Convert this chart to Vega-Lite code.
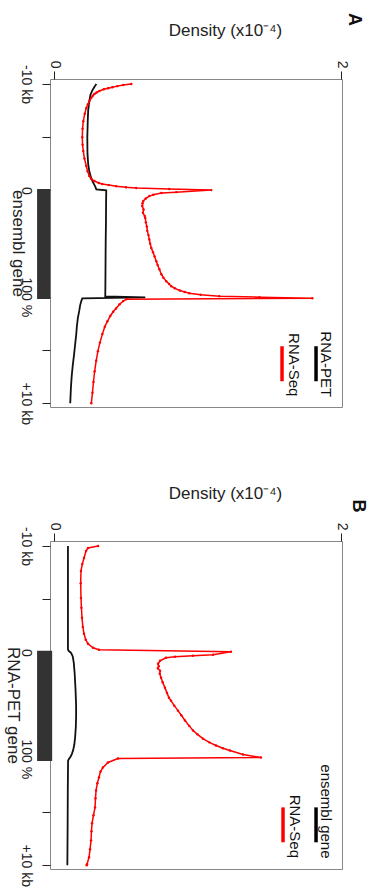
{
  "$schema": "https://vega.github.io/schema/vega-lite/v6.json",
  "padding": {"left": 3, "top": 12, "right": 0, "bottom": 0},
  "background": "white",
  "bounds": "flush",
  "spacing": 134,
  "config": {
    "font": "Liberation Sans",
    "view": {"stroke": "#888", "strokeWidth": 1},
    "axis": {"grid": false, "domain": false, "tickColor": "#222", "tickSize": 8, "labelColor": "#222", "titleColor": "#222", "titleFontWeight": "normal", "labelFlush": false, "labelOverlap": false, "labelBound": false}
  },
  "datasets": {
    "A_pet": [
      {"pos": 0, "density": 0.293}, {"pos": 3, "density": 0.278}, {"pos": 6, "density": 0.265}, {"pos": 10, "density": 0.252}, {"pos": 16, "density": 0.244}, {"pos": 25, "density": 0.236}, {"pos": 35, "density": 0.233}, {"pos": 50, "density": 0.23}, {"pos": 65, "density": 0.231}, {"pos": 75, "density": 0.236}, {"pos": 82, "density": 0.244}, {"pos": 88, "density": 0.256}, {"pos": 92, "density": 0.268}, {"pos": 96, "density": 0.284}, {"pos": 99, "density": 0.293}, {"pos": 100, "density": 0.362}, {"pos": 110, "density": 0.361}, {"pos": 130, "density": 0.36}, {"pos": 150, "density": 0.358}, {"pos": 170, "density": 0.357}, {"pos": 190, "density": 0.356}, {"pos": 199.5, "density": 0.355}, {"pos": 200.5, "density": 0.634}, {"pos": 201.5, "density": 0.195}, {"pos": 204, "density": 0.188}, {"pos": 208, "density": 0.18}, {"pos": 213, "density": 0.174}, {"pos": 220, "density": 0.164}, {"pos": 228, "density": 0.157}, {"pos": 235, "density": 0.153}, {"pos": 245, "density": 0.145}, {"pos": 255, "density": 0.137}, {"pos": 265, "density": 0.128}, {"pos": 275, "density": 0.121}, {"pos": 285, "density": 0.116}, {"pos": 300, "density": 0.111}
    ],
    "A_seq": [
      {"pos": 0, "density": 0.537}, {"pos": 1, "density": 0.48}, {"pos": 2, "density": 0.439}, {"pos": 3, "density": 0.405}, {"pos": 4, "density": 0.375}, {"pos": 5, "density": 0.345}, {"pos": 6.6, "density": 0.314}, {"pos": 8, "density": 0.295}, {"pos": 9.4, "density": 0.279}, {"pos": 11, "density": 0.268}, {"pos": 13, "density": 0.258}, {"pos": 16, "density": 0.245}, {"pos": 19, "density": 0.234}, {"pos": 22.6, "density": 0.223}, {"pos": 28, "density": 0.212}, {"pos": 35, "density": 0.202}, {"pos": 42, "density": 0.197}, {"pos": 50, "density": 0.195}, {"pos": 57, "density": 0.197}, {"pos": 63, "density": 0.202}, {"pos": 70, "density": 0.21}, {"pos": 77, "density": 0.223}, {"pos": 82, "density": 0.232}, {"pos": 86.5, "density": 0.244}, {"pos": 89, "density": 0.256}, {"pos": 91.2, "density": 0.279}, {"pos": 93, "density": 0.31}, {"pos": 94, "density": 0.334}, {"pos": 95, "density": 0.38}, {"pos": 96, "density": 0.432}, {"pos": 97, "density": 0.5}, {"pos": 97.8, "density": 0.571}, {"pos": 98.7, "density": 0.801}, {"pos": 99.7, "density": 1.094}, {"pos": 101.6, "density": 0.85}, {"pos": 102.5, "density": 0.746}, {"pos": 104, "density": 0.69}, {"pos": 105.3, "density": 0.662}, {"pos": 107.5, "density": 0.638}, {"pos": 110, "density": 0.62}, {"pos": 112, "density": 0.615}, {"pos": 114.7, "density": 0.613}, {"pos": 118, "density": 0.622}, {"pos": 121, "density": 0.618}, {"pos": 124, "density": 0.63}, {"pos": 126, "density": 0.634}, {"pos": 130, "density": 0.638}, {"pos": 134, "density": 0.645}, {"pos": 138, "density": 0.648}, {"pos": 142, "density": 0.656}, {"pos": 146, "density": 0.662}, {"pos": 150, "density": 0.668}, {"pos": 154, "density": 0.676}, {"pos": 158, "density": 0.688}, {"pos": 162, "density": 0.699}, {"pos": 166.5, "density": 0.711}, {"pos": 170, "density": 0.72}, {"pos": 174, "density": 0.732}, {"pos": 178.7, "density": 0.746}, {"pos": 182, "density": 0.76}, {"pos": 185.3, "density": 0.78}, {"pos": 188, "density": 0.8}, {"pos": 190, "density": 0.815}, {"pos": 192, "density": 0.84}, {"pos": 194, "density": 0.875}, {"pos": 195.5, "density": 0.91}, {"pos": 196.6, "density": 0.941}, {"pos": 198, "density": 1.02}, {"pos": 199.4, "density": 1.15}, {"pos": 200.3, "density": 1.429}, {"pos": 201.3, "density": 1.798}, {"pos": 202.2, "density": 0.502}, {"pos": 204, "density": 0.48}, {"pos": 207, "density": 0.455}, {"pos": 211, "density": 0.43}, {"pos": 214, "density": 0.41}, {"pos": 218, "density": 0.39}, {"pos": 223, "density": 0.37}, {"pos": 228, "density": 0.352}, {"pos": 235, "density": 0.335}, {"pos": 243, "density": 0.318}, {"pos": 251, "density": 0.304}, {"pos": 260, "density": 0.292}, {"pos": 270, "density": 0.281}, {"pos": 280, "density": 0.273}, {"pos": 290, "density": 0.266}, {"pos": 300, "density": 0.258}
    ],
    "B_ens": [
      {"pos": 0, "density": 0.095}, {"pos": 50, "density": 0.095}, {"pos": 97, "density": 0.095}, {"pos": 98.5, "density": 0.1}, {"pos": 100, "density": 0.114}, {"pos": 102, "density": 0.123}, {"pos": 104, "density": 0.129}, {"pos": 110, "density": 0.136}, {"pos": 120, "density": 0.142}, {"pos": 135, "density": 0.148}, {"pos": 150, "density": 0.152}, {"pos": 160, "density": 0.152}, {"pos": 170, "density": 0.15}, {"pos": 180, "density": 0.145}, {"pos": 187, "density": 0.139}, {"pos": 192, "density": 0.131}, {"pos": 195.5, "density": 0.122}, {"pos": 198, "density": 0.113}, {"pos": 200, "density": 0.103}, {"pos": 201.6, "density": 0.096}, {"pos": 230, "density": 0.094}, {"pos": 260, "density": 0.093}, {"pos": 300, "density": 0.091}
    ],
    "B_seq": [
      {"pos": 0, "density": 0.305}, {"pos": 1.9, "density": 0.235}, {"pos": 4.7, "density": 0.221}, {"pos": 11.2, "density": 0.207}, {"pos": 17, "density": 0.195}, {"pos": 23.4, "density": 0.186}, {"pos": 35, "density": 0.184}, {"pos": 48.8, "density": 0.186}, {"pos": 58, "density": 0.189}, {"pos": 67.5, "density": 0.193}, {"pos": 76, "density": 0.199}, {"pos": 82.5, "density": 0.207}, {"pos": 88, "density": 0.219}, {"pos": 91.9, "density": 0.235}, {"pos": 95.6, "density": 0.27}, {"pos": 97.5, "density": 0.311}, {"pos": 99.4, "density": 1.231}, {"pos": 102.2, "density": 1.106}, {"pos": 103.1, "density": 0.966}, {"pos": 104, "density": 0.841}, {"pos": 105, "density": 0.778}, {"pos": 107.8, "density": 0.737}, {"pos": 110.6, "density": 0.723}, {"pos": 113, "density": 0.728}, {"pos": 115, "density": 0.722}, {"pos": 117.2, "density": 0.737}, {"pos": 120, "density": 0.735}, {"pos": 123.7, "density": 0.744}, {"pos": 128, "density": 0.755}, {"pos": 133.1, "density": 0.771}, {"pos": 138, "density": 0.785}, {"pos": 142.5, "density": 0.799}, {"pos": 145.3, "density": 0.813}, {"pos": 150, "density": 0.836}, {"pos": 154.7, "density": 0.862}, {"pos": 159, "density": 0.885}, {"pos": 164, "density": 0.911}, {"pos": 169, "density": 0.94}, {"pos": 173.4, "density": 0.967}, {"pos": 177, "density": 0.998}, {"pos": 181, "density": 1.036}, {"pos": 184.5, "density": 1.08}, {"pos": 187.5, "density": 1.127}, {"pos": 190, "density": 1.175}, {"pos": 192.2, "density": 1.224}, {"pos": 195.9, "density": 1.315}, {"pos": 198.7, "density": 1.44}, {"pos": 199.7, "density": 0.444}, {"pos": 203.4, "density": 0.374}, {"pos": 208.1, "density": 0.339}, {"pos": 212, "density": 0.322}, {"pos": 217.5, "density": 0.311}, {"pos": 223, "density": 0.3}, {"pos": 229.7, "density": 0.291}, {"pos": 237, "density": 0.287}, {"pos": 245.6, "density": 0.284}, {"pos": 253, "density": 0.273}, {"pos": 260.6, "density": 0.263}, {"pos": 268, "density": 0.259}, {"pos": 276.6, "density": 0.256}, {"pos": 285, "density": 0.249}, {"pos": 292.5, "density": 0.242}, {"pos": 299, "density": 0.228}, {"pos": 300, "density": 0.226}
    ]
  },
  "vconcat": [
    {
      "width": 292,
      "height": 328,
      "layer": [
        {
          "data": {"name": "A_pet"},
          "mark": {"type": "line", "color": "#111", "strokeWidth": 1.8},
          "encoding": {
            "x": {"field": "density", "type": "quantitative", "scale": {"domain": [-0.03, 2.005], "nice": false, "zero": false},
              "axis": {"orient": "top", "values": [0, 1, 2], "format": "d", "labelAngle": 90, "labelAlign": "right", "labelBaseline": "middle", "labelPadding": 3, "labelFontSize": 14, "title": "Density (x10⁻⁴)", "titleFontSize": 17, "titleX": 175, "titleY": -44, "titleAlign": "center", "titleBaseline": "alphabetic", "titleAngle": 0}},
            "y": {"field": "pos", "type": "quantitative", "scale": {"domain": [-4.7, 303.5], "reverse": true, "nice": false, "zero": false},
              "axis": {"orient": "left", "values": [0, 50, 100, 200, 250, 300], "labelExpr": "datum.value == 0 ? '-10 kb' : datum.value == 100 ? '0' : datum.value == 200 ? '100 %' : datum.value == 300 ? '+10 kb' : ''", "labelAngle": 90, "labelAlign": "center", "labelBaseline": "top", "labelPadding": 10, "labelFontSize": 14, "title": "ensembl gene", "titleFontSize": 17, "titleAngle": 90, "titleX": -37.5, "titleAlign": "center", "titleBaseline": "alphabetic"}},
            "order": {"field": "pos", "type": "quantitative"}
          }
        },
        {
          "data": {"name": "A_seq"},
          "mark": {"type": "line", "color": "#ff0000", "strokeWidth": 1.5, "point": {"filled": true, "size": 6, "color": "#ff0000"}},
          "encoding": {
            "x": {"field": "density", "type": "quantitative"},
            "y": {"field": "pos", "type": "quantitative"},
            "order": {"field": "pos", "type": "quantitative"}
          }
        },
        {
          "data": {"values": [{"gene": "ensembl gene", "start": 98.7, "end": 202}]},
          "mark": {"type": "rect", "color": "#333333"},
          "encoding": {"y": {"field": "start", "type": "quantitative"}, "y2": {"field": "end"}, "x": {"datum": -0.12}, "x2": {"datum": -0.028}}
        },
        {
          "data": {"values": [{}]},
          "mark": {"type": "rule", "color": "#000", "strokeWidth": 3.5},
          "encoding": {"x": {"datum": 1.824}, "y": {"datum": 246.4}, "y2": {"datum": 279.3}}
        },
        {
          "data": {"values": [{}]},
          "mark": {"type": "rule", "color": "#ff0000", "strokeWidth": 3.5},
          "encoding": {"x": {"datum": 1.587}, "y": {"datum": 246.4}, "y2": {"datum": 279.3}}
        },
        {
          "data": {"values": [{}]},
          "mark": {"type": "text", "text": "RNA-PET", "angle": 90, "align": "center", "baseline": "alphabetic", "fontSize": 15, "color": "#111"},
          "encoding": {"x": {"datum": 1.858}, "y": {"datum": 263.3}}
        },
        {
          "data": {"values": [{}]},
          "mark": {"type": "text", "text": "RNA-Seq", "angle": 90, "align": "center", "baseline": "alphabetic", "fontSize": 15, "color": "#111"},
          "encoding": {"x": {"datum": 1.635}, "y": {"datum": 263.8}}
        },
        {
          "data": {"values": [{}]},
          "mark": {"type": "text", "text": "A", "angle": 90, "align": "center", "baseline": "middle", "fontSize": 18, "fontWeight": "bold", "color": "#111"},
          "encoding": {"x": {"datum": 2.088}, "y": {"datum": -60.7}}
        }
      ]
    },
    {
      "width": 292,
      "height": 328,
      "layer": [
        {
          "data": {"name": "B_ens"},
          "mark": {"type": "line", "color": "#111", "strokeWidth": 1.8},
          "encoding": {
            "x": {"field": "density", "type": "quantitative", "scale": {"domain": [-0.03, 2.005], "nice": false, "zero": false},
              "axis": {"orient": "top", "values": [0, 1, 2], "format": "d", "labelAngle": 90, "labelAlign": "right", "labelBaseline": "middle", "labelPadding": 3, "labelFontSize": 14, "title": "Density (x10⁻⁴)", "titleFontSize": 17, "titleX": 175, "titleY": -43, "titleAlign": "center", "titleBaseline": "alphabetic", "titleAngle": 0}},
            "y": {"field": "pos", "type": "quantitative", "scale": {"domain": [-4.7, 303.5], "reverse": true, "nice": false, "zero": false},
              "axis": {"orient": "left", "values": [0, 50, 100, 200, 250, 300], "labelExpr": "datum.value == 0 ? '-10 kb' : datum.value == 100 ? '0' : datum.value == 200 ? '100 %' : datum.value == 300 ? '+10 kb' : ''", "labelAngle": 90, "labelAlign": "center", "labelBaseline": "top", "labelPadding": 10, "labelFontSize": 14, "title": "RNA-PET gene", "titleFontSize": 17, "titleAngle": 90, "titleX": -43, "titleAlign": "center", "titleBaseline": "alphabetic"}},
            "order": {"field": "pos", "type": "quantitative"}
          }
        },
        {
          "data": {"name": "B_seq"},
          "mark": {"type": "line", "color": "#ff0000", "strokeWidth": 1.5, "point": {"filled": true, "size": 6, "color": "#ff0000"}},
          "encoding": {
            "x": {"field": "density", "type": "quantitative"},
            "y": {"field": "pos", "type": "quantitative"},
            "order": {"field": "pos", "type": "quantitative"}
          }
        },
        {
          "data": {"values": [{"gene": "RNA-PET gene", "start": 98.5, "end": 202}]},
          "mark": {"type": "rect", "color": "#333333"},
          "encoding": {"y": {"field": "start", "type": "quantitative"}, "y2": {"field": "end"}, "x": {"datum": -0.12}, "x2": {"datum": -0.015}}
        },
        {
          "data": {"values": [{}]},
          "mark": {"type": "rule", "color": "#000", "strokeWidth": 3.5},
          "encoding": {"x": {"datum": 1.824}, "y": {"datum": 245.6}, "y2": {"datum": 278.4}}
        },
        {
          "data": {"values": [{}]},
          "mark": {"type": "rule", "color": "#ff0000", "strokeWidth": 3.5},
          "encoding": {"x": {"datum": 1.594}, "y": {"datum": 245.6}, "y2": {"datum": 278.4}}
        },
        {
          "data": {"values": [{}]},
          "mark": {"type": "text", "text": "ensembl gene", "angle": 90, "align": "center", "baseline": "alphabetic", "fontSize": 15, "color": "#111"},
          "encoding": {"x": {"datum": 1.859}, "y": {"datum": 249.4}}
        },
        {
          "data": {"values": [{}]},
          "mark": {"type": "text", "text": "RNA-Seq", "angle": 90, "align": "center", "baseline": "alphabetic", "fontSize": 15, "color": "#111"},
          "encoding": {"x": {"datum": 1.642}, "y": {"datum": 263.4}}
        },
        {
          "data": {"values": [{}]},
          "mark": {"type": "text", "text": "B", "angle": 90, "align": "center", "baseline": "middle", "fontSize": 18, "fontWeight": "bold", "color": "#111"},
          "encoding": {"x": {"datum": 2.116}, "y": {"datum": -37.5}}
        }
      ]
    }
  ]
}
